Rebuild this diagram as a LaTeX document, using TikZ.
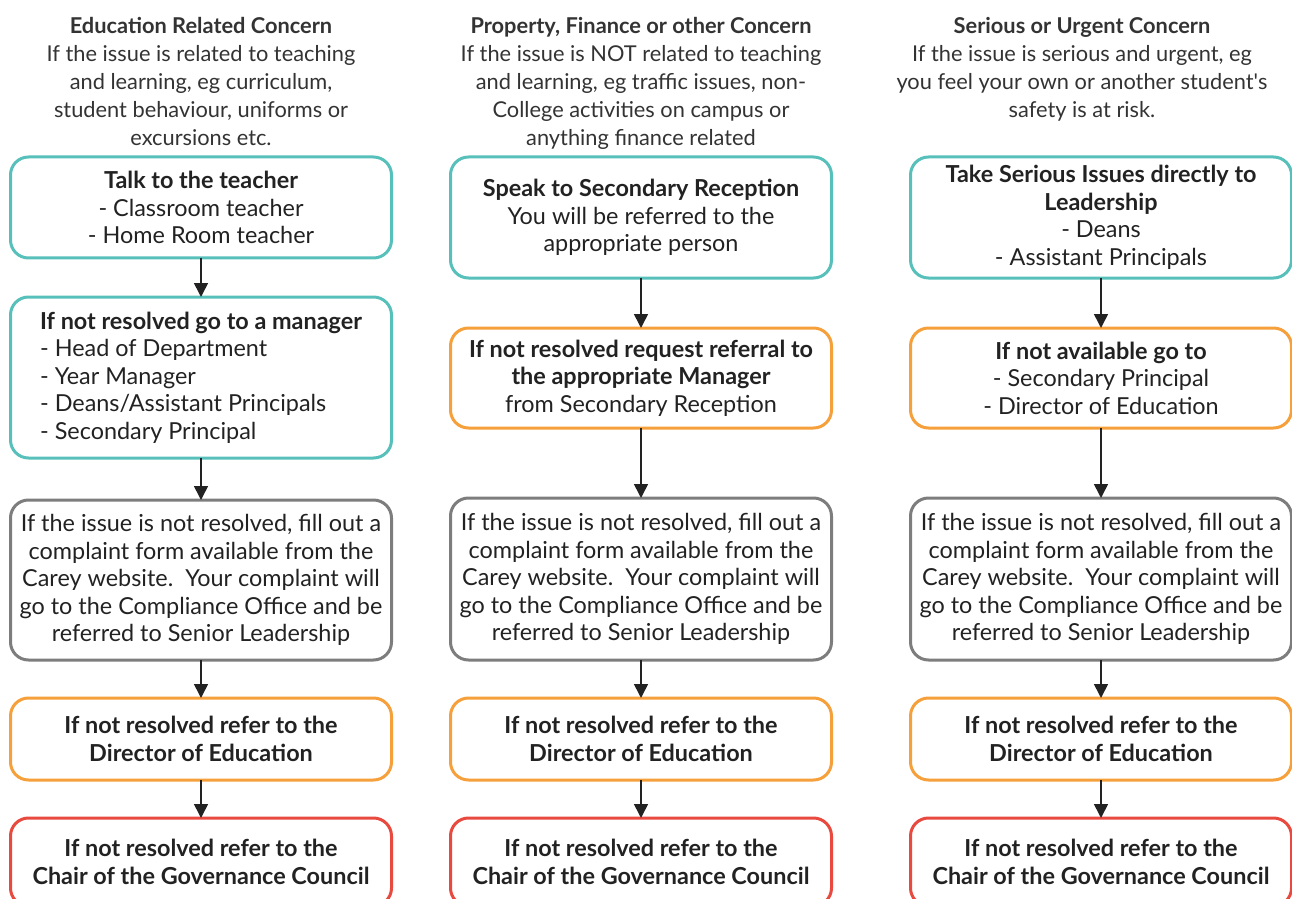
\documentclass[tikz,border=0pt]{standalone}
\usepackage{fontspec}
\setmainfont{Lato}
\usetikzlibrary{arrows.meta, positioning}

\definecolor{stepteal}{RGB}{88,192,187}
\definecolor{steporange}{RGB}{246,160,60}
\definecolor{stepgrey}{RGB}{125,125,125}
\definecolor{stepred}{RGB}{232,74,64}
\definecolor{inkdark}{RGB}{34,34,34}
\definecolor{inkhead}{RGB}{51,51,51}

\begin{document}
\begin{tikzpicture}[every node/.style={inner sep=0pt, outer sep=0pt},
		box/.style={draw, line width=1.5pt, rounded corners=9pt, minimum width=190.5pt, align=center, text=inkdark, font=\fontsize{11.7}{13.75}\selectfont},
		head/.style={anchor=north, align=center, text=inkhead, font=\fontsize{10.9}{14}\selectfont},
		post/.style={-{Triangle[width=7pt, length=7pt]}, line width=0.8pt, draw=inkdark}]

	\useasboundingbox (0,0) rectangle (646pt,-449.5pt);

	% column headings
	\node [head] (EH) at (100.5pt,-8.5pt)
		{\textbf{Education Related Concern}\\If the issue is related to teaching\\and learning, eg curriculum,\\student behaviour, uniforms or\\excursions etc.};
	\node [head] (PH) at (320.5pt,-8.5pt)
		{\textbf{Property, Finance or other Concern}\\If the issue is NOT related to teaching\\and learning, eg traffic issues, non-\\College activities on campus or\\anything finance related};
	\node [head] (SH) at (541pt,-8.5pt)
		{\textbf{Serious or Urgent Concern}\\If the issue is serious and urgent, eg\\you feel your own or another student\textquotesingle s\\safety is at risk.};

	% education column
	\node [box, draw=stepteal, anchor=north, minimum height=50.5pt] (E1) at (100.5pt,-78.5pt)
		{\textbf{Talk to the teacher}\\- Classroom teacher\\- Home Room teacher};
	\node [box, draw=stepteal, minimum height=80.5pt, align=left] (E2) [below=19.5pt of E1]
		{\textbf{If not resolved go to a manager}\\- Head of Department\\- Year Manager\\- Deans/Assistant Principals\\- Secondary Principal};
	\node [box, draw=stepgrey, minimum height=80pt] (E3) [below=21pt of E2]
		{If the issue is not resolved, fill out a\\complaint form available from the\\Carey website.\ \ Your complaint will\\go to the Compliance Office and be\\referred to Senior Leadership};
	\node [box, draw=steporange, minimum height=41pt] (E4) [below=19pt of E3]
		{\textbf{If not resolved refer to the}\\\textbf{Director of Education}};
	\node [box, draw=stepred, minimum height=44pt] (E5) [below=19pt of E4]
		{\textbf{If not resolved refer to the}\\\textbf{Chair of the Governance Council}};

	% property column
	\node [box, draw=stepteal, anchor=north, minimum height=60.5pt] (P1) at (320.5pt,-78.5pt)
		{\textbf{Speak to Secondary Reception}\\You will be referred to the\\appropriate person};
	\node [box, draw=steporange, minimum height=50pt] (P2) [below=25pt of P1]
		{\textbf{If not resolved request referral to}\\\textbf{the appropriate Manager}\\from Secondary Reception};
	\node [box, draw=stepgrey, minimum height=81pt] (P3) [below=35pt of P2]
		{If the issue is not resolved, fill out a\\complaint form available from the\\Carey website.\ \ Your complaint will\\go to the Compliance Office and be\\referred to Senior Leadership};
	\node [box, draw=steporange, minimum height=41pt] (P4) [below=19pt of P3]
		{\textbf{If not resolved refer to the}\\\textbf{Director of Education}};
	\node [box, draw=stepred, minimum height=44pt] (P5) [below=19pt of P4]
		{\textbf{If not resolved refer to the}\\\textbf{Chair of the Governance Council}};

	% serious column
	\node [box, draw=stepteal, anchor=north, minimum height=60.5pt] (S1) at (550.5pt,-78.5pt)
		{\textbf{Take Serious Issues directly to}\\\textbf{Leadership}\\- Deans\\- Assistant Principals};
	\node [box, draw=steporange, minimum height=50pt] (S2) [below=25pt of S1]
		{\textbf{If not available go to}\\- Secondary Principal\\- Director of Education};
	\node [box, draw=stepgrey, minimum height=81pt] (S3) [below=35pt of S2]
		{If the issue is not resolved, fill out a\\complaint form available from the\\Carey website.\ \ Your complaint will\\go to the Compliance Office and be\\referred to Senior Leadership};
	\node [box, draw=steporange, minimum height=41pt] (S4) [below=19pt of S3]
		{\textbf{If not resolved refer to the}\\\textbf{Director of Education}};
	\node [box, draw=stepred, minimum height=44pt] (S5) [below=19pt of S4]
		{\textbf{If not resolved refer to the}\\\textbf{Chair of the Governance Council}};

	\foreach \c in {E, P, S} {
		\draw[post] (\c1) -- (\c2);
		\draw[post] (\c2) -- (\c3);
		\draw[post] (\c3) -- (\c4);
		\draw[post] (\c4) -- (\c5);
	}

\end{tikzpicture}
\end{document}
